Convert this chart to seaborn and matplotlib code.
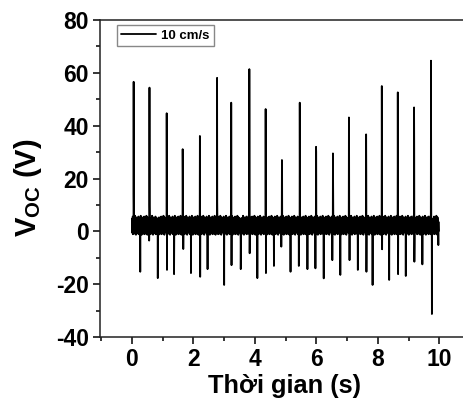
import numpy as np
import pandas as pd
import matplotlib
matplotlib.use("Agg")
import matplotlib.pyplot as plt
import seaborn as sns
from matplotlib.ticker import MultipleLocator

# ---- data ----
pos_times = [0.055, 0.57, 1.13, 1.65, 2.21, 2.77, 3.23, 3.82, 4.35, 4.88,
             5.46, 5.99, 6.54, 7.06, 7.62, 8.13, 8.65, 9.18, 9.73]
pos_peaks = [56.6, 54.4, 44.7, 31.1, 36.1, 58.1, 48.7, 61.4, 46.3, 27.0,
             48.7, 32.0, 29.5, 43.1, 36.7, 55.0, 52.6, 46.9, 64.6]
pos_shoulder = [14, 10, 24, 22, 29, 11, 16, 14, 3, 24,
                23, 30, 19, 36, 22, 15, 17, 31, 20]
neg_times = [0.26, 0.55, 0.83, 1.12, 1.36, 1.66, 1.91, 2.20, 2.45, 2.99,
             3.23, 3.53, 3.82, 4.07, 4.34, 4.61, 4.85, 5.15, 5.42, 5.70,
             5.96, 6.23, 6.51, 6.77, 7.07, 7.34, 7.61, 7.82, 8.13, 8.36,
             8.65, 8.90, 9.17, 9.44, 9.75, 9.96]
neg_depths = [-15.3, -3.5, -17.7, -14.6, -16.2, -6.7, -15.8, -17.2, -14.3, -20.3,
              -12.8, -14.3, -8.3, -17.7, -15.8, -13.1, -5.8, -15.3, -13.1, -14.3,
              -14.0, -17.8, -10.9, -16.5, -10.9, -14.6, -15.3, -20.3, -6.8, -18.4,
              -16.2, -16.9, -11.5, -12.5, -31.3, -5.2]
baseline_pattern = [2.1, 4.8, -0.6, 3.5, 1.2, 5.6, -1.1, 2.9, 0.4, 4.2,
                    -0.3, 3.8, 1.7, 5.1, 0.2, 2.4, -0.9, 4.6, 1.0, 3.1,
                    5.9, -0.5, 2.7, 0.8, 4.4, 1.5, -1.3, 3.3, 5.3, 0.6,
                    2.2, 4.0, -0.2, 1.9, 3.6, 0.1, 4.9]
legend_label = "10 cm/s"
x_label = "Thời gian (s)"
y_label = r"V$_{\mathregular{OC}}$ (V)"

# ---- assemble the recorded trace ----
dt = 0.005
t = np.arange(0, 9.985, dt)
v = np.resize(np.array(baseline_pattern, dtype=float), t.size)
taken = set()
for tp, h, s in zip(pos_times, pos_peaks, pos_shoulder):
    i = int(round(tp / dt))
    v[i] = h
    v[i + 1] = s
    taken.update({i, i + 1})
for tn, d in zip(neg_times, neg_depths):
    i = min(int(round(tn / dt)) + 2, t.size - 1)
    while i in taken:
        i += 1
    v[i] = d
df = pd.DataFrame({"t": t, "v": v})

# ---- figure ----
sns.set_style("ticks")
plt.rcParams["font.family"] = ["Liberation Sans", "DejaVu Sans"]
plt.rcParams["mathtext.default"] = "regular"
plt.rcParams["axes.unicode_minus"] = False
plt.rcParams["text.color"] = "black"
plt.rcParams["axes.labelcolor"] = "black"

fig = plt.figure(figsize=(4.64, 4.08), dpi=100)
W, H = 464, 408
ax = fig.add_axes([100 / W, 71 / H, 370 / W, 317 / H])

sns.lineplot(data=df, x="t", y="v", color="black", linewidth=1.3,
             label=legend_label, ax=ax, estimator=None, sort=False)

ax.set_xlim(-1.04, 11)
ax.set_ylim(-40, 80)
ax.xaxis.set_major_locator(MultipleLocator(2))
ax.xaxis.set_minor_locator(MultipleLocator(1))
ax.yaxis.set_major_locator(MultipleLocator(20))
ax.yaxis.set_minor_locator(MultipleLocator(10))
ax.tick_params(axis="both", which="major", direction="out", length=5, width=1.1,
               labelsize=16.5, colors="black", pad=3)
ax.tick_params(axis="both", which="minor", direction="out", length=3, width=1.1,
               colors="black")
for lab in ax.get_xticklabels() + ax.get_yticklabels():
    lab.set_fontweight("bold")
for sp in ax.spines.values():
    sp.set_linewidth(1.1)
    sp.set_color("#222222")

ax.set_xlabel(x_label, fontsize=18.3, fontweight="bold", labelpad=2, color="black")
ax.set_ylabel(y_label, fontsize=21, fontweight="bold", color="black")
ax.yaxis.set_label_coords(-0.15, 0.47)

leg = ax.legend(loc="upper left", bbox_to_anchor=(0.045, 0.985), frameon=True,
                fancybox=False, edgecolor="#888888", framealpha=1,
                prop={"weight": "bold", "size": 9.5}, handlelength=2.6,
                borderpad=0.35, handletextpad=0.4, borderaxespad=0)
leg.get_frame().set_linewidth(1.0)
for txt in leg.get_texts():
    txt.set_color("black")

fig.savefig("out.png", dpi=100)
